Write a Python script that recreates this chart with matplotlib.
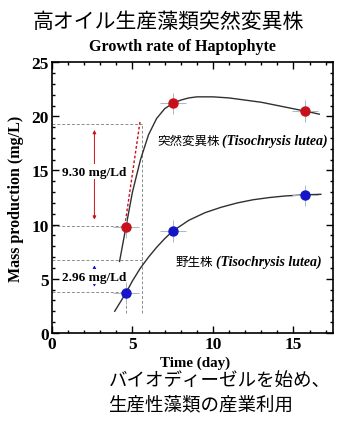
import matplotlib
matplotlib.use("Agg")
import matplotlib.pyplot as plt
from matplotlib.ticker import MultipleLocator

plt.rcParams["font.family"] = ["Liberation Serif", "Noto Sans CJK JP"]

# measured points (day, mg/L)
days = [4.6, 7.5, 15.7]
mutant = [9.8, 21.2, 20.5]
wild = [3.7, 9.4, 12.7]
x_err = [0.8, 0.8, 0.8]
y_err_mutant = [1.0, 1.0, 1.0]
y_err_wild = [1.0, 1.0, 1.0]

# fitted curves
mutant_fit_x = [4.2, 4.6, 5.0, 5.5, 6.0, 6.5, 7.0, 7.5, 8.0, 8.5, 9.0, 10.0,
                11.0, 12.0, 13.0, 14.0, 15.0, 16.0, 16.6]
mutant_fit_y = [6.6, 9.8, 13.0, 16.0, 18.3, 19.8, 20.7, 21.2, 21.5, 21.7, 21.8,
                21.8, 21.7, 21.5, 21.3, 21.0, 20.7, 20.4, 20.2]
wild_fit_x = [3.9, 4.6, 5.0, 5.5, 6.0, 6.5, 7.0, 7.5, 8.5, 9.5, 10.5, 11.5,
              12.5, 13.5, 14.5, 15.7, 16.7]
wild_fit_y = [2.0, 3.7, 4.8, 6.0, 7.0, 7.9, 8.7, 9.4, 10.4, 11.1, 11.6, 12.0,
              12.3, 12.5, 12.65, 12.75, 12.8]

# growth-rate guides
mutant_rate = "9.30 mg/Ld"
wild_rate = "2.96 mg/Ld"
mutant_lo, mutant_hi = 9.9, 19.3
wild_lo, wild_hi = 3.8, 6.7
guide_x_lo, guide_x_hi = 4.6, 5.62

RED = "#c8101a"
BLUE = "#1414c8"
GUIDE = "#8c8c8c"
CJK = ["Noto Sans CJK JP", "DejaVu Sans"]

fig = plt.figure(figsize=(3.37, 4.27), dpi=100)
ax = fig.add_axes([0.154, 0.218, 0.834, 0.634])

# dashed guide lines
guide = dict(ls="--", color=GUIDE, lw=0.7, dashes=(3, 2))
ax.plot([0, guide_x_hi], [mutant_hi, mutant_hi], **guide)
ax.plot([0, guide_x_lo], [mutant_lo, mutant_lo], **guide)
ax.plot([0, guide_x_hi], [wild_hi, wild_hi], **guide)
ax.plot([0, guide_x_lo], [wild_lo, wild_lo], **guide)
ax.plot([guide_x_hi, guide_x_hi], [1.8, mutant_hi], **guide)
ax.plot([guide_x_lo, guide_x_lo], [1.8, wild_lo], **guide)

# tangent line
ax.plot([4.53, 5.47], [mutant_lo, mutant_hi + 0.2], ls="--", color=RED, lw=1.0,
        dashes=(2, 1.5))

# fitted curves
ax.plot(mutant_fit_x, mutant_fit_y, color="#303030", lw=1.0)
ax.plot(wild_fit_x, wild_fit_y, color="#303030", lw=1.0)

# points with error bars
ax.errorbar(days, mutant, xerr=x_err, yerr=y_err_mutant, fmt="o", color=RED,
            ms=6.5, ecolor="#a8b8c0", elinewidth=0.7, capsize=0, zorder=5)
ax.errorbar(days, wild, xerr=x_err, yerr=y_err_wild, fmt="o", color=BLUE,
            ms=6.5, ecolor="#a8b8c0", elinewidth=0.7, capsize=0, zorder=5)

# rate arrows
ax.annotate("", xy=(2.64, mutant_hi - 0.3), xytext=(2.64, mutant_lo + 0.3),
            arrowprops=dict(arrowstyle="<|-|>", color=RED, lw=0.7,
                            mutation_scale=5))
ax.text(2.64, 14.9, mutant_rate, ha="center", va="center", fontsize=9.5,
        fontweight="bold", bbox=dict(fc="white", ec="none", pad=1))
ax.annotate("", xy=(2.64, wild_hi - 0.2), xytext=(2.64, wild_lo + 0.2),
            arrowprops=dict(arrowstyle="<|-|>", color=BLUE, lw=0.7,
                            mutation_scale=5))
ax.text(2.64, 5.2, wild_rate, ha="center", va="center", fontsize=9.5,
        fontweight="bold", bbox=dict(fc="white", ec="none", pad=1))

# series labels: Japanese name + italic species name
t1 = ax.text(6.52, 17.8, "突然変異株", ha="left", va="center", fontsize=9,
             family=CJK)
ax.annotate("(Tisochrysis lutea)", xy=(1, 0.5), xycoords=t1, xytext=(2, 0),
            textcoords="offset points", ha="left", va="center", fontsize=10,
            fontweight="bold", fontstyle="italic")
t2 = ax.text(7.7, 6.64, "野生株", ha="left", va="center", fontsize=9,
             family=CJK)
ax.annotate("(Tisochrysis lutea)", xy=(1, 0.5), xycoords=t2, xytext=(2, 0),
            textcoords="offset points", ha="left", va="center", fontsize=10,
            fontweight="bold", fontstyle="italic")

ax.set_xlim(0, 17.45)
ax.set_ylim(0, 25)
ax.xaxis.set_major_locator(MultipleLocator(5))
ax.xaxis.set_minor_locator(MultipleLocator(1))
ax.yaxis.set_major_locator(MultipleLocator(5))
ax.yaxis.set_minor_locator(MultipleLocator(1))
ax.tick_params(which="both", direction="in", top=True, right=True, width=1.0)
ax.tick_params(which="major", length=5, labelsize=12.5, pad=2)
ax.tick_params(which="minor", length=2.5)
for lab in ax.get_xticklabels() + ax.get_yticklabels():
    lab.set_fontweight("bold")
for sp in ax.spines.values():
    sp.set_linewidth(1.2)

ax.set_xlabel("Time (day)", fontsize=10.8, fontweight="bold")
ax.xaxis.set_label_coords(0.51, -0.083)
ax.set_ylabel("Mass production (mg/L)", fontsize=11.5, fontweight="bold")
ax.yaxis.set_label_coords(-0.1, 0.5)

fig.text(0.54, 0.89, "Growth rate of Haptophyte", ha="center", va="center",
         fontsize=11.5, fontweight="bold")
fig.text(0.5, 0.948, "高オイル生産藻類突然変異株", ha="center", va="center",
         fontsize=15, family=CJK)
fig.text(0.322, 0.108, "バイオディーゼルを始め、", ha="left", va="center",
         fontsize=13.3, family=CJK)
fig.text(0.322, 0.0515, "生産性藻類の産業利用", ha="left", va="center",
         fontsize=13.3, family=CJK)

fig.savefig("out.png", dpi=100)
